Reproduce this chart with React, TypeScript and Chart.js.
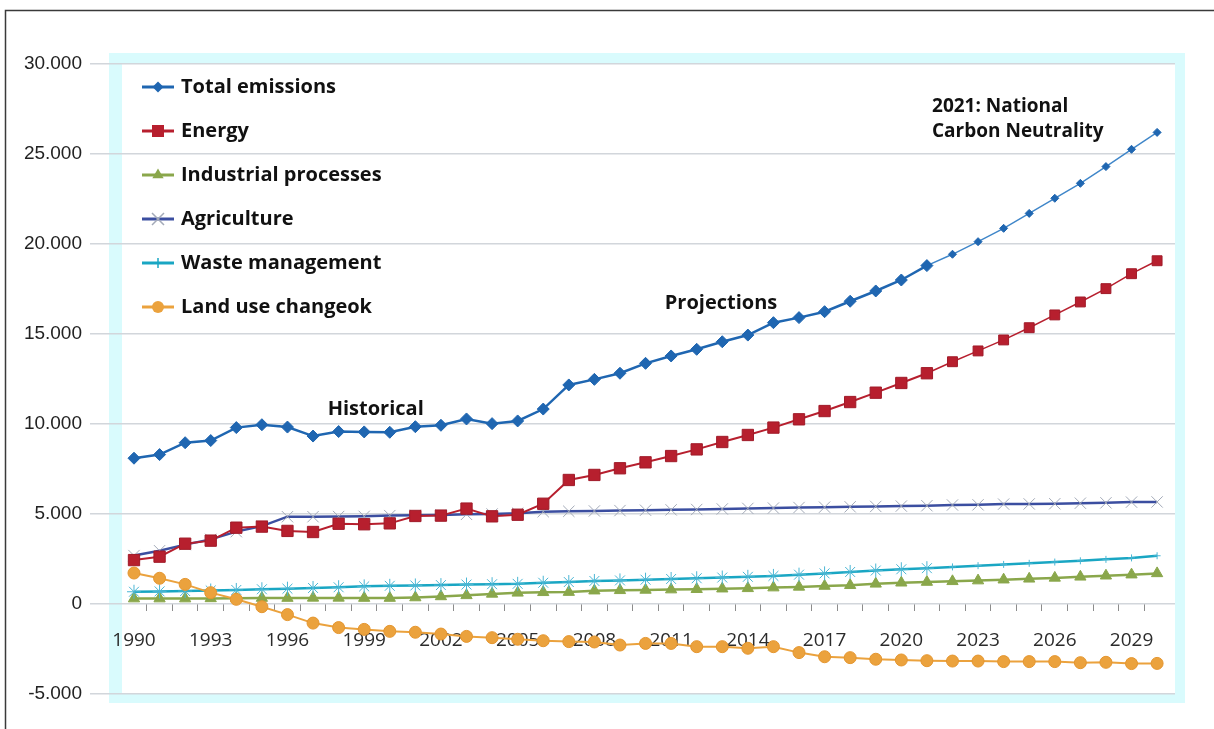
import React, { useEffect, useRef } from 'react';
import { Chart, registerables } from 'chart.js';

Chart.register(...registerables);

const YEARS = [
  1990, 1991, 1992, 1993, 1994, 1995, 1996, 1997, 1998, 1999,
  2000, 2001, 2002, 2003, 2004, 2005, 2006, 2007, 2008, 2009,
  2010, 2011, 2012, 2013, 2014, 2015, 2016, 2017, 2018, 2019,
  2020, 2021, 2022, 2023, 2024, 2025, 2026, 2027, 2028, 2029, 2030,
];

const TICK_YEARS = [1990, 1993, 1996, 1999, 2002, 2005, 2008, 2011, 2014, 2017, 2020, 2023, 2026, 2029];

const TOTAL = [
  8100, 8300, 8960, 9080, 9800, 9960, 9830, 9330, 9580, 9560,
  9540, 9850, 9930, 10280, 10020, 10170, 10830, 12170, 12480, 12820,
  13370, 13780, 14150, 14570, 14940, 15630, 15910, 16240, 16820, 17390,
  18000, 18800, 19430, 20130, 20870, 21700, 22540, 23370, 24300, 25260, 26200,
];

const ENERGY = [
  2440, 2630, 3350, 3520, 4240, 4300, 4060, 4000, 4460, 4430,
  4480, 4890, 4910, 5300, 4870, 4960, 5570, 6890, 7170, 7540,
  7870, 8220, 8590, 9000, 9390, 9800, 10260, 10720, 11220, 11740,
  12280, 12820, 13460, 14060, 14670, 15350, 16060, 16780, 17520, 18350, 19070,
];

const INDUSTRIAL = [
  300, 300, 300, 310, 320, 330, 330, 340, 340, 330,
  330, 360, 420, 480, 560, 620, 650, 660, 740, 760,
  780, 800, 820, 850, 870, 910, 950, 1000, 1040, 1120,
  1180, 1220, 1260, 1300, 1350, 1400, 1450, 1510, 1570, 1630, 1700,
];

const AGRICULTURE = [
  2690, 2960, 3300, 3590, 4020, 4330, 4850, 4850, 4860, 4870,
  4910, 4930, 4950, 4980, 5000, 5040, 5130, 5150, 5170, 5190,
  5210, 5230, 5250, 5280, 5310, 5330, 5360, 5380, 5400, 5420,
  5440, 5460, 5500, 5510, 5550, 5560, 5570, 5600, 5620, 5660, 5670,
];

const WASTE = [
  680, 700, 720, 750, 780, 820, 850, 890, 930, 980,
  1010, 1030, 1050, 1080, 1100, 1120, 1180, 1220, 1280, 1310,
  1350, 1390, 1430, 1470, 1510, 1560, 1630, 1700, 1780, 1860,
  1930, 1990, 2060, 2130, 2200, 2260, 2330, 2400, 2480, 2560, 2680,
];

const LAND_USE = [
  1720, 1430, 1090, 630, 260, -150, -590, -1060, -1310, -1410,
  -1520, -1570, -1670, -1800, -1870, -1960, -2040, -2090, -2110, -2280,
  -2190, -2190, -2370, -2370, -2460, -2370, -2700, -2930, -2980, -3070,
  -3110, -3150, -3170, -3170, -3200, -3200, -3200, -3260, -3240, -3310, -3300,
];

const SERIES_NAMES = [
  'Total emissions',
  'Energy',
  'Industrial processes',
  'Agriculture',
  'Waste management',
  'Land use changeok',
];

const ANNOTATIONS = [
  { text: 'Historical', x: 1999.45, y: 10830, align: 'center' },
  { text: 'Projections', x: 2012.95, y: 16720, align: 'center' },
  { text: '2021: National', x: 2021.2, y: 27610, align: 'left' },
  { text: 'Carbon Neutrality', x: 2021.2, y: 26220, align: 'left' },
];

const C = {
  total: '#1f66b1',
  totalLight: '#3f86c9',
  energy: '#b71f2e',
  industrial: '#8aa74b',
  agriculture: '#3b4ea0',
  aggMarker: '#a3aab8',
  waste: '#19a6c3',
  land: '#eba23d',
};

const LEGEND = [
  { line: C.total, shape: 'rectRot', color: C.total, r: 5.5 },
  { line: C.energy, shape: 'rect', color: C.energy, r: 6 },
  { line: C.industrial, shape: 'triangle', color: C.industrial, r: 6.5 },
  { line: C.agriculture, shape: 'crossRot', color: C.aggMarker, r: 6 },
  { line: C.waste, shape: 'cross', color: C.waste, r: 5 },
  { line: C.land, shape: 'circle', color: C.land, r: 6 },
];

function fmt(v: number): string {
  const s = Math.abs(v).toString().replace(/\B(?=(\d{3})+(?!\d))/g, '.');
  return v < 0 ? '-' + s : s;
}

function pts(values: number[]) {
  return YEARS.map((y, i) => ({ x: y, y: values[i] }));
}

function drawShape(ctx: CanvasRenderingContext2D, shape: string, x: number, y: number, r: number, color: string) {
  ctx.save();
  ctx.fillStyle = color;
  ctx.strokeStyle = color;
  ctx.lineWidth = 1.5;
  ctx.beginPath();
  if (shape === 'rectRot') {
    ctx.moveTo(x, y - r);
    ctx.lineTo(x + r, y);
    ctx.lineTo(x, y + r);
    ctx.lineTo(x - r, y);
    ctx.closePath();
    ctx.fill();
  } else if (shape === 'rect') {
    ctx.rect(x - r, y - r, 2 * r, 2 * r);
    ctx.fill();
  } else if (shape === 'triangle') {
    ctx.moveTo(x, y - r);
    ctx.lineTo(x + r * 0.866, y + r * 0.5);
    ctx.lineTo(x - r * 0.866, y + r * 0.5);
    ctx.closePath();
    ctx.fill();
  } else if (shape === 'crossRot') {
    ctx.moveTo(x - r, y - r);
    ctx.lineTo(x + r, y + r);
    ctx.moveTo(x + r, y - r);
    ctx.lineTo(x - r, y + r);
    ctx.stroke();
  } else if (shape === 'cross') {
    ctx.moveTo(x, y - r);
    ctx.lineTo(x, y + r);
    ctx.stroke();
  } else if (shape === 'circle') {
    ctx.arc(x, y, r, 0, Math.PI * 2);
    ctx.fill();
  }
  ctx.restore();
}

const framePlugin = {
  id: 'frame',
  beforeDraw(chart: any) {
    const { ctx, chartArea: a, width, height } = chart;
    ctx.save();
    ctx.fillStyle = '#ffffff';
    ctx.fillRect(0, 0, width, height);
    ctx.fillStyle = '#d9fbfd';
    ctx.fillRect(a.left + 19, a.top - 11, a.right + 10 - (a.left + 19), a.bottom + 9 - (a.top - 11));
    ctx.fillStyle = '#ffffff';
    ctx.fillRect(a.left + 32, a.top - 1, a.right - (a.left + 32), a.bottom - a.top + 1);
    ctx.strokeStyle = '#3a3a3a';
    ctx.lineWidth = 1.5;
    ctx.beginPath();
    ctx.moveTo(5.5, height);
    ctx.lineTo(5.5, 10.5);
    ctx.lineTo(width, 10.5);
    ctx.stroke();
    ctx.restore();
  },
};

const overlayPlugin = {
  id: 'overlay',
  afterDraw(chart: any) {
    const { ctx, chartArea: a, scales } = chart;
    ctx.save();
    ctx.textBaseline = 'middle';
    SERIES_NAMES.forEach((name, i) => {
      const y = a.top + 23 + i * 44;
      const x0 = a.left + 52;
      const x1 = a.left + 84;
      const lg = LEGEND[i];
      ctx.strokeStyle = lg.line;
      ctx.lineWidth = 3;
      ctx.beginPath();
      ctx.moveTo(x0, y);
      ctx.lineTo(x1, y);
      ctx.stroke();
      drawShape(ctx, lg.shape, (x0 + x1) / 2, y, lg.r, lg.color);
      ctx.fillStyle = '#111111';
      ctx.font = '700 20px "Open Sans"';
      ctx.textAlign = 'left';
      ctx.fillText(name, a.left + 91, y);
    });
    ANNOTATIONS.forEach((an) => {
      const px = scales.x.getPixelForValue(an.x);
      const py = scales.y.getPixelForValue(an.y);
      ctx.fillStyle = '#111111';
      ctx.font = an.align === 'left' ? '700 19px "Open Sans"' : '700 20px "Open Sans"';
      ctx.textAlign = an.align as CanvasTextAlign;
      ctx.fillText(an.text, px, py);
    });
    ctx.restore();
  },
};

const X_MIN = 1988.28;
const X_MAX = 2030.7;

export default function App() {
  const ref = useRef<HTMLCanvasElement | null>(null);

  useEffect(() => {
    if (!ref.current) return;
    const after2021 = (c: any) => c.raw && c.raw.x > 2021;
    const chart = new Chart(ref.current, {
      type: 'line',
      data: {
        datasets: [
          {
            label: SERIES_NAMES[0],
            data: pts(TOTAL),
            borderColor: C.total,
            backgroundColor: C.total,
            borderWidth: 2.5,
            pointStyle: 'rectRot',
            pointRadius: (c: any) => (after2021(c) ? 4 : 6),
            pointBorderWidth: 1,
            segment: {
              borderWidth: (c: any) => (c.p0.parsed.x >= 2021 ? 1.4 : 2.5),
              borderColor: (c: any) => (c.p0.parsed.x >= 2021 ? C.totalLight : C.total),
            },
            order: 0,
          },
          {
            label: SERIES_NAMES[1],
            data: pts(ENERGY),
            borderColor: C.energy,
            backgroundColor: C.energy,
            borderWidth: 2,
            pointStyle: 'rect',
            pointRadius: (c: any) => (after2021(c) ? 7 : 8),
            pointBorderColor: '#a01a28',
            pointBorderWidth: 1,
            segment: {
              borderWidth: (c: any) => (c.p0.parsed.x >= 2021 ? 1.5 : 2),
            },
            order: 2,
          },
          {
            label: SERIES_NAMES[2],
            data: pts(INDUSTRIAL),
            borderColor: C.industrial,
            backgroundColor: C.industrial,
            borderWidth: 2.5,
            pointStyle: 'triangle',
            pointRadius: 6.5,
            pointBorderWidth: 1,
            order: 5,
          },
          {
            label: SERIES_NAMES[3],
            data: pts(AGRICULTURE),
            borderColor: C.agriculture,
            backgroundColor: C.aggMarker,
            borderWidth: 2.5,
            pointStyle: 'crossRot',
            pointRadius: 8,
            pointBorderColor: C.aggMarker,
            pointBorderWidth: 1,
            order: 3,
          },
          {
            label: SERIES_NAMES[4],
            data: pts(WASTE),
            borderColor: C.waste,
            backgroundColor: C.waste,
            borderWidth: 2.5,
            pointStyle: (c: any) => (after2021(c) ? 'cross' : 'star'),
            pointRadius: (c: any) => (after2021(c) ? 3.5 : 7),
            pointBorderColor: '#4ab6d4',
            pointBorderWidth: 1,
            order: 4,
          },
          {
            label: SERIES_NAMES[5],
            data: pts(LAND_USE),
            borderColor: C.land,
            backgroundColor: C.land,
            borderWidth: 2,
            pointStyle: 'circle',
            pointRadius: 6,
            pointBorderColor: '#e5962f',
            pointBorderWidth: 1,
            order: 1,
          },
        ],
      },
      options: {
        animation: false,
        responsive: false,
        maintainAspectRatio: false,
        layout: { padding: { top: 64, right: 39, bottom: 35, left: 0 } },
        plugins: {
          legend: { display: false },
          tooltip: { enabled: false },
          title: { display: false },
        },
        scales: {
          x: {
            type: 'linear',
            min: X_MIN,
            max: X_MAX,
            position: { y: 0 } as any,
            grid: { display: false, drawTicks: false },
            border: { display: false },
            afterBuildTicks: (scale: any) => {
              scale.ticks = TICK_YEARS.map((v) => ({ value: v }));
            },
            afterFit: (scale: any) => {
              scale.height = 0;
            },
            ticks: {
              autoSkip: false,
              maxRotation: 0,
              padding: 25,
              color: '#2b2b2b',
              font: { family: '"Open Sans"', size: 19 },
              callback: (v: any) => String(v),
            },
          },
          xt: {
            type: 'linear',
            axis: 'x',
            min: X_MIN,
            max: X_MAX,
            position: { y: 0 } as any,
            grid: { display: true, drawOnChartArea: false, drawTicks: true, tickLength: 7, color: '#8c8c8c', tickWidth: 1 },
            border: { display: false },
            afterBuildTicks: (scale: any) => {
              scale.ticks = YEARS.slice(0, -1).map((v) => ({ value: v + 0.5 }));
            },
            afterFit: (scale: any) => {
              scale.height = 0;
            },
            ticks: { display: false },
          },
          y: {
            type: 'linear',
            min: -5000,
            max: 30000,
            grid: { color: '#d2d6db', lineWidth: 1.5, drawTicks: false },
            border: { display: false },
            afterFit: (scale: any) => {
              scale.width = 90;
            },
            ticks: {
              stepSize: 5000,
              padding: 8,
              color: '#222222',
              font: { family: '"Liberation Sans", Arial, sans-serif', size: 19 },
              callback: (v: any) => fmt(Number(v)),
            },
          },
        },
      },
      plugins: [framePlugin, overlayPlugin],
    } as any);
    return () => chart.destroy();
  }, []);

  return (
    <div style={{ position: 'fixed', left: 0, top: 0, width: 1214, height: 729, background: '#fff' }}>
      <canvas ref={ref} width={1214} height={729} style={{ display: 'block', width: 1214, height: 729 }} />
    </div>
  );
}
